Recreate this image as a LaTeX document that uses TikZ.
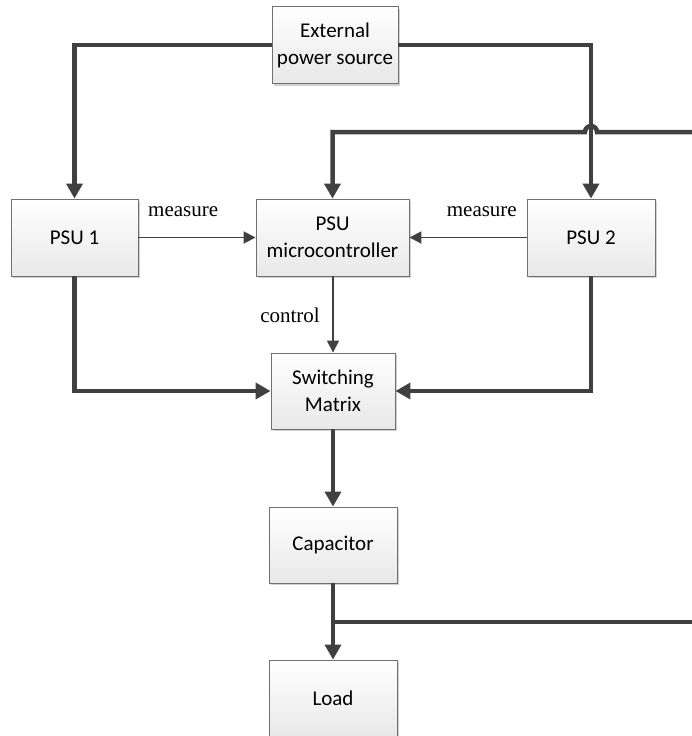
\documentclass[tikz,border=0pt]{standalone}
\usepackage{fontspec}
\setmainfont{Liberation Serif}
\newfontfamily\boxfont{Carlito}
\usetikzlibrary{arrows.meta,shadows}
\definecolor{wire}{HTML}{404040}
\definecolor{frame}{HTML}{707070}
\begin{document}
\begin{tikzpicture}[x=1pt,y=-1pt,
  block/.style={rectangle, draw=frame, line width=0.9pt, top color=white, bottom color=black!9,
    drop shadow={shadow xshift=2pt, shadow yshift=-2pt, opacity=0.18, fill=black},
    minimum height=77pt, align=center, inner sep=0pt,
    font=\boxfont\fontsize{21}{27}\selectfont},
  power/.style={draw=wire, line width=4.5pt, line join=miter},
  powerarrow/.style={power, -{Triangle[length=15pt,width=16pt]}},
  signal/.style={draw=wire, line width=1.8pt, -{Triangle[length=12pt,width=12pt]}},
  tag/.style={inner sep=0pt, font=\fontsize{21}{25}\selectfont}]
\useasboundingbox (0,0) rectangle (692,736);

% blocks
\node[block, minimum width=126pt] (ext)  at (335,45)    {External\\power source};
\node[block, minimum width=127pt] (psu1) at (74.5,237.5) {PSU 1};
\node[block, minimum width=153pt] (mcu)  at (332.5,237.5) {PSU\\microcontroller};
\node[block, minimum width=128pt] (psu2) at (591,237.5) {PSU 2};
\node[block, minimum width=124pt, minimum height=76pt] (sw) at (333,391) {Switching\\Matrix};
\node[block, minimum width=128pt, minimum height=76pt] (cap) at (333,545) {Capacitor};
\node[block, minimum width=128pt] (load) at (333,698.5) {Load};

% free ends of the two buses leaving on the right
\coordinate (busA) at (692,132);
\coordinate (busB) at (692,622);
\coordinate (tapB) at (333,622);

% supply feeds
\draw[powerarrow] (ext.west) -| (psu1.north);
\draw[powerarrow] (ext.east) -| (psu2.north);
% bus into the controller, hopping over the PSU 2 feed
\draw[powerarrow] (busA) -- ([xshift=6pt]psu2.north |- busA)
  arc[start angle=0, end angle=180, radius=6pt]
  -- (mcu.north |- busA) -- (mcu.north);

% measurements and control
\draw[signal] (psu1.east) -- (mcu.west);
\draw[signal] (psu2.west) -- (mcu.east);
\draw[signal] (sw.north |- mcu.south) -- (sw.north);

% power path
\draw[powerarrow] (psu1.south) |- (sw.west);
\draw[powerarrow] (psu2.south) |- (sw.east);
\draw[powerarrow] (sw.south) -- (cap.north);
\draw[powerarrow] (cap.south) -- (load.north);
\draw[power] (tapB) -- (busB);

% labels
\node[tag, anchor=base west] (m1) at (148,216) {measure};
\node[tag, anchor=base east] (m2) at (517,216) {measure};
\node[tag, anchor=base east] (ct) at (320,322) {control};
\end{tikzpicture}
\end{document}
